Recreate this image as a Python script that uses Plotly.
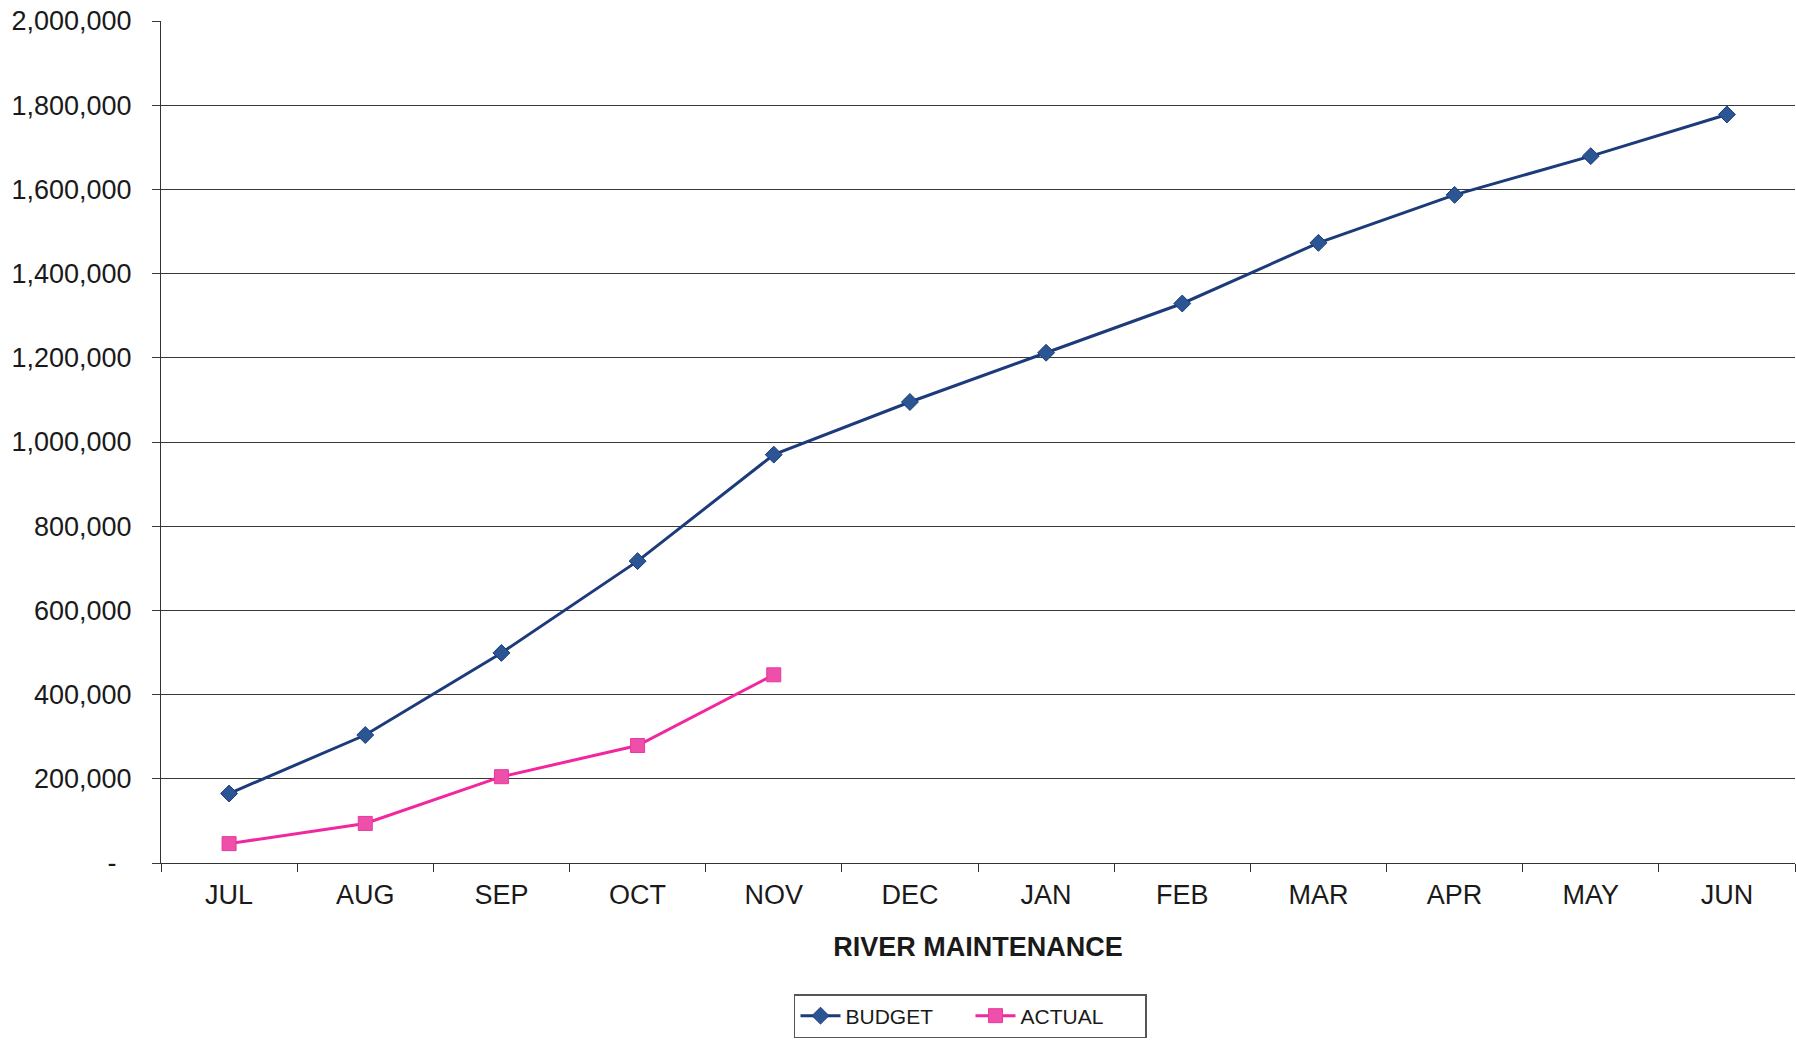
import plotly.graph_objects as go

months = ["JUL", "AUG", "SEP", "OCT", "NOV", "DEC", "JAN", "FEB", "MAR", "APR", "MAY", "JUN"]
budget = [165000, 304000, 499000, 717000, 970000, 1095000, 1212000, 1329000, 1473000, 1587000, 1679000, 1778000]
actual_months = ["JUL", "AUG", "SEP", "OCT", "NOV"]
actual = [46000, 94000, 205000, 279000, 447000]

y_ticks = [0, 200000, 400000, 600000, 800000, 1000000, 1200000, 1400000, 1600000, 1800000, 2000000]
y_labels = ["-\u00a0\u00a0", "200,000", "400,000", "600,000", "800,000", "1,000,000",
            "1,200,000", "1,400,000", "1,600,000", "1,800,000", "2,000,000"]

FONT = "Liberation Sans, Arial, sans-serif"

fig = go.Figure()
fig.add_trace(go.Scatter(
    x=months, y=budget, name="BUDGET", mode="lines+markers",
    line=dict(color="#1C3B7A", width=3),
    marker=dict(symbol="diamond", size=13, color="#2B5593", line=dict(color="#1C3B7A", width=1)),
))
fig.add_trace(go.Scatter(
    x=actual_months, y=actual, name="ACTUAL", mode="lines+markers",
    line=dict(color="#F2269E", width=3),
    marker=dict(symbol="square", size=14, color="#EE4FA9", line=dict(color="#E8389E", width=1)),
))

fig.update_layout(
    width=1796, height=1042,
    margin=dict(l=161, r=1, t=21, b=179, autoexpand=False),
    paper_bgcolor="white", plot_bgcolor="white",
    font=dict(family=FONT, color="#1a1a1a"),
    showlegend=True,
    legend=dict(
        orientation="h", x=0.4954, xanchor="center", y=-0.1556, yanchor="top",
        bordercolor="#555555", borderwidth=1.5, bgcolor="white",
        font=dict(size=21, family=FONT, color="#1a1a1a"),
        itemwidth=40, entrywidth=120, entrywidthmode="pixels",
    ),
)
fig.update_xaxes(
    type="category", categoryorder="array", categoryarray=months,
    range=[-0.5, 11.5], tickson="boundaries",
    showgrid=False, showline=True, linecolor="#333333", linewidth=1.2,
    ticks="outside", ticklen=8, tickcolor="#333333", tickwidth=1.2,
    tickfont=dict(size=27, family=FONT, color="#1a1a1a"),
    ticklabelstandoff=7,
    title=dict(text="<b>RIVER MAINTENANCE</b>", font=dict(size=27, family=FONT, color="#1a1a1a"), standoff=28),
    zeroline=False,
)
fig.update_yaxes(
    range=[0, 2000000], tickmode="array", tickvals=y_ticks, ticktext=y_labels,
    showgrid=True, gridcolor="#3a3a3a", gridwidth=1.3,
    showline=True, linecolor="#333333", linewidth=1.2,
    ticks="outside", ticklen=8, tickcolor="#3a3a3a", tickwidth=1.2,
    tickfont=dict(size=27, family=FONT, color="#1a1a1a"),
    ticklabelstandoff=15, ticklabeloverflow="allow",
    zeroline=False,
)

fig.write_html("out.html", config={"displayModeBar": False},
               post_script="document.body.style.margin='0';")
